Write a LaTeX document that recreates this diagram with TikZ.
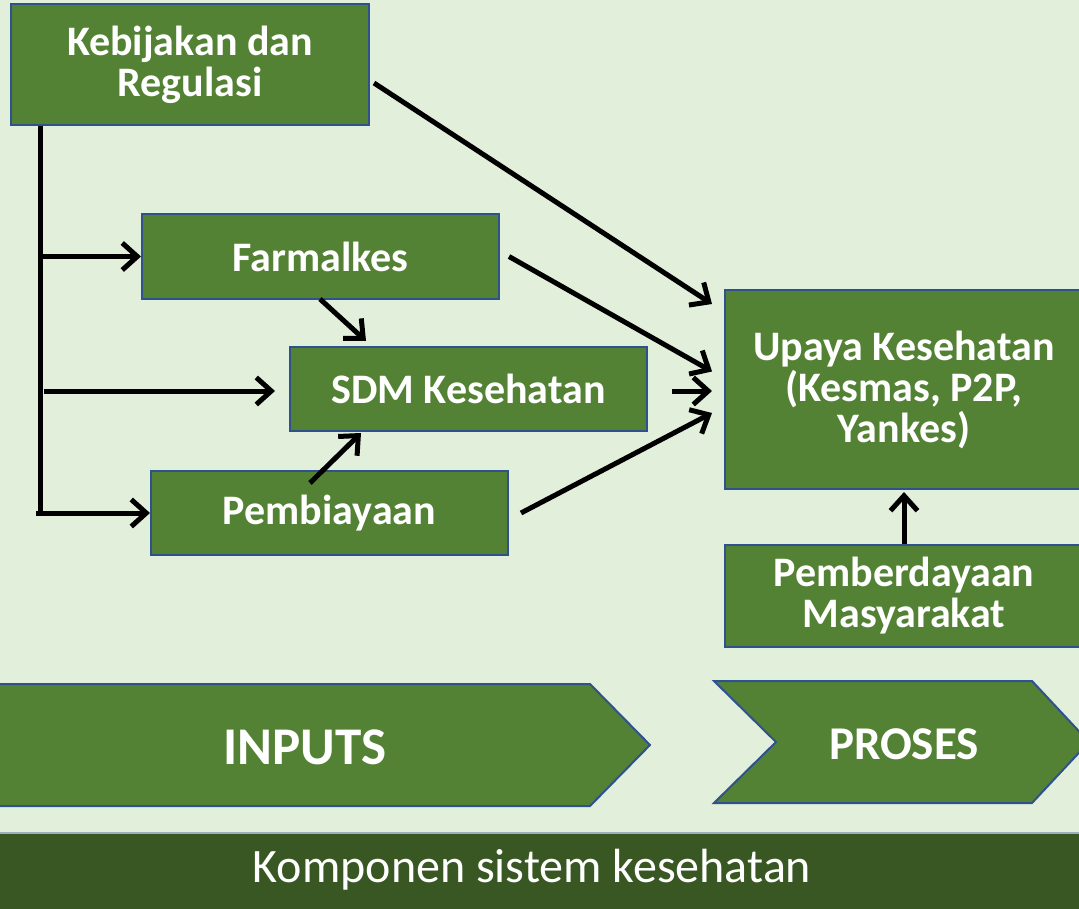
\documentclass[tikz,border=0pt]{standalone}
\usepackage{fontspec}
\setmainfont{Carlito}
\usetikzlibrary{arrows.meta,calc}
\definecolor{bgc}{HTML}{E2EFDA}
\definecolor{boxg}{HTML}{548235}
\definecolor{boxb}{HTML}{2F528F}
\definecolor{darkg}{HTML}{385723}
\tikzset{
  gbox/.style={draw=boxb,line width=2pt,fill=boxg,text=white,inner sep=0pt,align=center,
    font=\bfseries\fontsize{42}{41}\selectfont},
  arr/.style={line width=5pt,-{Straight Barb[length=15pt,width=27pt]}},
  ln/.style={line width=5pt},
  chev/.style={draw=boxb,line width=2pt,fill=boxg}
}
\begin{document}
\begin{tikzpicture}[x=1pt,y=-1pt]
\clip (0,0) rectangle (1079,909);
\fill[bgc] (0,0) rectangle (1079,909);
% boxes
\node[gbox,minimum width=358,minimum height=121] (keb) at (190,65) {Kebijakan dan\\Regulasi};
\node[gbox,minimum width=357,minimum height=85] (farm) at (320.5,256.5) {Farmalkes};
\node[gbox,minimum width=357,minimum height=84] (sdm) at (468.5,389) {SDM Kesehatan};
\node[gbox,minimum width=357,minimum height=84] (pemb) at (329.5,513) {Pembiayaan};
\node[gbox,minimum width=358,minimum height=199] (upaya) at (904,389.5) {Upaya Kesehatan\\(Kesmas, P2P,\\Yankes)};
\node[gbox,minimum width=358,minimum height=102] (pember) at (904,596) {Pemberdayaan\\Masyarakat};
% trunk
\coordinate (trunk) at ($(keb.south west)+(30,0)$);
\coordinate (trunkend) at (trunk |- pemb.west);
\coordinate (trunkleft) at ($(trunkend)+(-4,0)$);
\draw[ln] (trunk) -- (trunkend);
\draw[arr] (trunkleft) -- (pemb.west);
\draw[arr] (trunk |- farm.west) -- (farm.west);
\coordinate (sdmstart) at ($(trunk |- sdm.west)+(4,2)$);
\draw[arr] (sdmstart) -- ($(sdm.west)+(-14,2)$);
\draw[arr] ($(farm.south)+(-0.5,-1)$) -- ($(sdm.north west)+(77,-5)$);
\draw[arr] ($(pemb.north west)+(160,13)$) -- ($(sdm.south west)+(72,1)$);
% to upaya
\draw[arr] ($(keb.east)+(4,18)$) -- ($(upaya.north west)+(-12,15)$);
\draw[arr] ($(farm.east)+(9,0)$) -- ($(upaya.west)+(-12,-18)$);
\draw[arr] ($(sdm.east)+(24,2)$) -- ($(upaya.west)+(-12,1.5)$);
\draw[arr] ($(pemb.east)+(12,0)$) -- ($(upaya.west)+(-12,23.5)$);
\draw[arr] (pember.north) -- ($(upaya.south)+(0,2)$);
% chevrons
\draw[chev] (-5,684) -- (590,684) -- (650,745) -- (590,806) -- (-5,806) -- cycle;
\node[text=white,font=\bfseries\fontsize{53}{56}\selectfont] (inputs) at (305,747) {INPUTS};
\draw[chev] (714,681) -- (1032,681) -- (1089,742) -- (1032,803) -- (714,803) -- (776,742) -- cycle;
\node[text=white,font=\bfseries\fontsize{47}{50}\selectfont] (proses) at (904,744) {PROSES};
% bottom band
\fill[darkg] (0,833) rectangle (1079,909);
\draw[boxb!40!bgc,line width=1.5pt] (0,833) -- (1079,833);
\node[text=white,font=\fontsize{48}{52}\selectfont] (komp) at (532,870) {Komponen sistem kesehatan};
\end{tikzpicture}
\end{document}
